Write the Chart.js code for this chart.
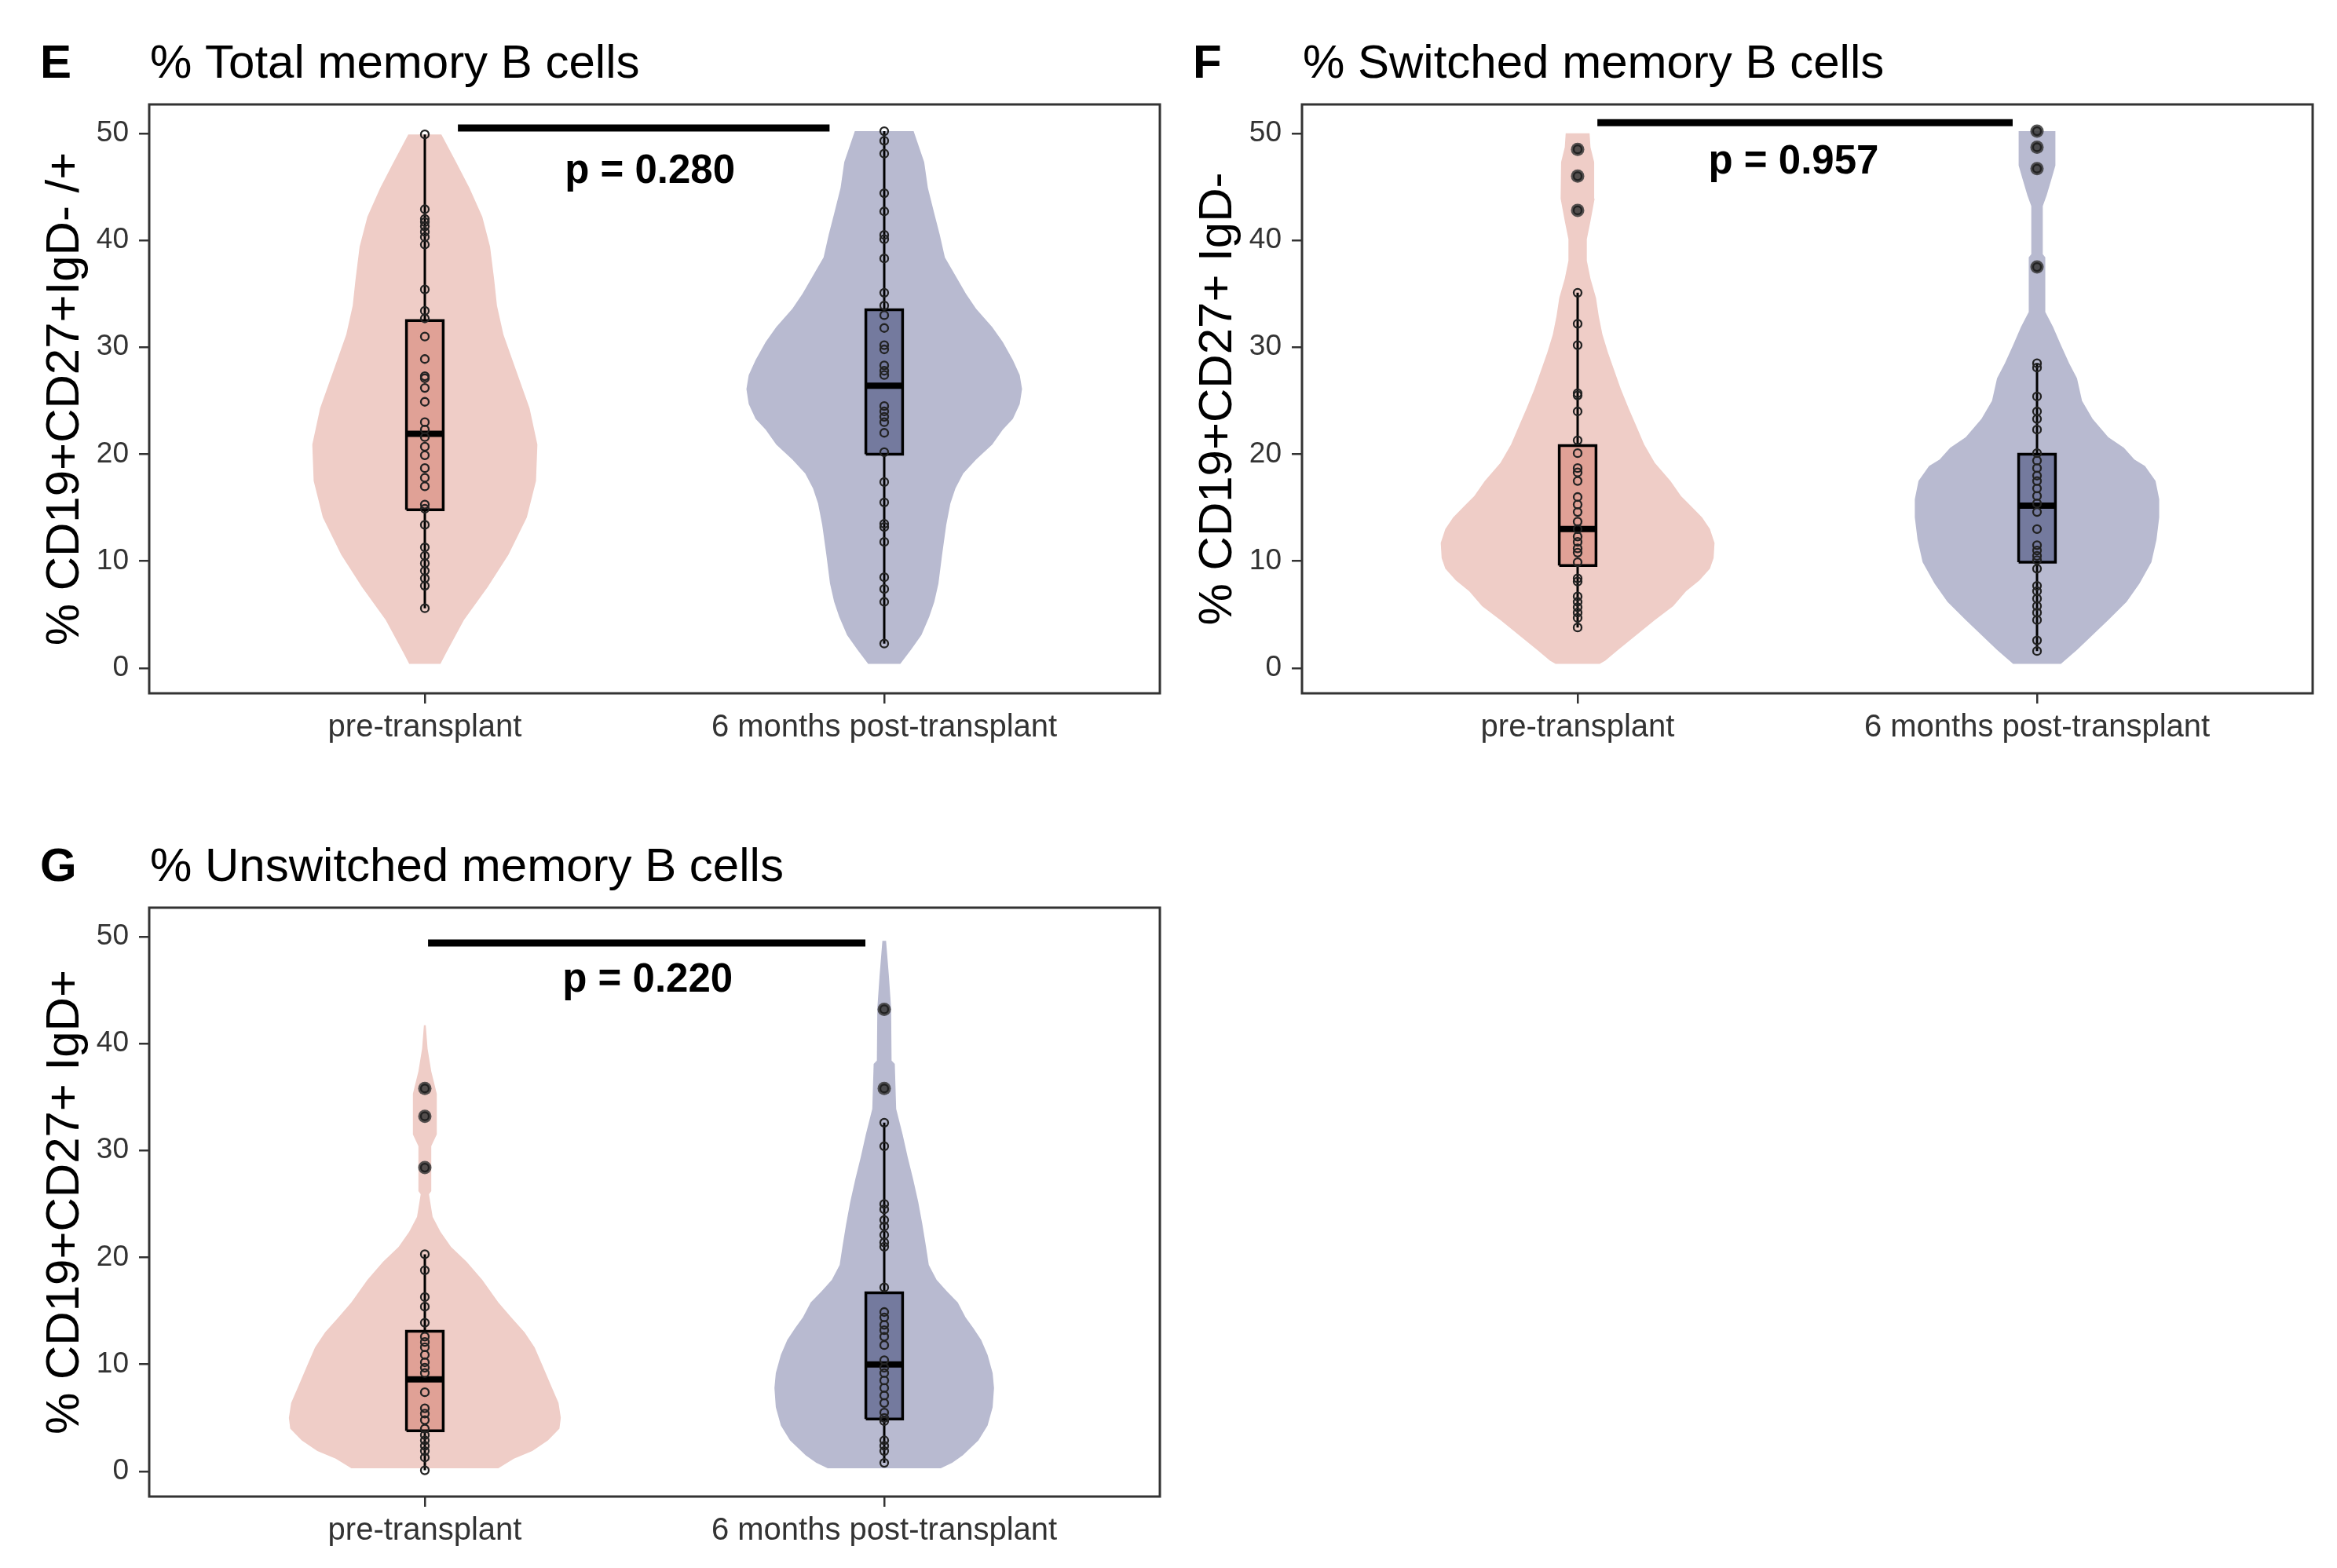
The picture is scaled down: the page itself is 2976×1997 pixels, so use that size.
<!DOCTYPE html>
<html>
<head>
<meta charset="utf-8">
<script src="https://cdn.jsdelivr.net/npm/chart.js@4.4.1/dist/chart.umd.min.js"></script>
<style>
  html, body { margin: 0; padding: 0; background: #fff; overflow: hidden; }
  body { width: 2976px; height: 1997px; position: relative; }
  canvas { position: absolute; }
</style>
</head>
<body>
<canvas id="chartE" width="1500" height="970" style="left:0px;top:0px;width:1500px;height:970px"></canvas>
<canvas id="chartF" width="1500" height="970" style="left:1468px;top:0px;width:1500px;height:970px"></canvas>
<canvas id="chartG" width="1500" height="970" style="left:0px;top:1023px;width:1500px;height:970px"></canvas>
<script>
// ---- shared labels ----
const groups = ['pre-transplant', '6 months post-transplant'];
const yTicks = [0, 10, 20, 30, 40, 50];

// ---- E: total memory B cells ----
const ePrePoints = [49.9, 42.9, 42.0, 41.7, 41.3, 40.8, 40.3, 39.6, 35.4, 33.4, 32.7, 31.0, 28.9, 27.3, 27.1, 26.2, 24.9, 23.0, 22.3, 21.6, 20.7, 19.9, 18.7, 17.8, 17.0, 15.3, 14.9, 13.4, 11.3, 10.5, 9.8, 9.1, 8.4, 7.7, 5.6];
const ePostPoints = [50.2, 49.3, 48.1, 44.4, 42.7, 40.5, 40.1, 38.3, 35.1, 33.9, 33.0, 31.8, 30.2, 29.8, 28.3, 27.8, 27.4, 24.5, 24.0, 23.5, 23.0, 22.0, 20.2, 17.4, 15.5, 13.5, 13.2, 11.8, 8.5, 7.4, 6.2, 2.3];
const ePreOutliers = [];
const ePostOutliers = [];
// box stats: lower whisker, q1, median, q3, upper whisker
const ePreBox = [5.6, 14.8, 21.9, 32.5, 49.9];
const ePostBox = [2.3, 20.0, 26.4, 33.5, 50.2];
// violin outline: y levels and half width (in category units)
const ePreViolinY = [0.4, 1.4, 4.5, 7.6, 10.6, 14.1, 17.5, 20.9, 24.3, 27.8, 31.2, 33.9, 36.3, 39.4, 42.2, 44.9, 47.3, 49.9];
const ePreViolinW = [0.034, 0.046, 0.085, 0.137, 0.182, 0.222, 0.242, 0.245, 0.228, 0.199, 0.171, 0.157, 0.151, 0.142, 0.125, 0.097, 0.068, 0.036];
const ePostViolinY = [0.4, 1.7, 3.1, 4.8, 6.2, 7.9, 10.6, 13.4, 15.4, 16.8, 18.2, 19.5, 20.9, 22.3, 23.3, 24.7, 26.1, 27.4, 28.8, 30.5, 31.9, 33.6, 35.0, 36.7, 38.4, 40.5, 42.5, 44.9, 47.3, 50.2];
const ePostViolinW = [0.035, 0.058, 0.081, 0.098, 0.109, 0.118, 0.126, 0.135, 0.144, 0.155, 0.172, 0.2, 0.235, 0.258, 0.28, 0.295, 0.3, 0.295, 0.28, 0.258, 0.235, 0.2, 0.178, 0.155, 0.132, 0.121, 0.109, 0.095, 0.087, 0.064];

// ---- F: switched memory B cells ----
const fPrePoints = [48.5, 46.0, 42.8, 35.1, 32.2, 30.2, 25.7, 25.5, 24.0, 21.3, 20.1, 18.7, 18.3, 17.5, 16.0, 15.3, 14.6, 13.7, 13.0, 12.3, 11.8, 11.2, 10.8, 9.9, 8.4, 8.1, 6.7, 6.2, 5.7, 5.2, 4.7, 3.8];
const fPostPoints = [50.2, 48.7, 46.7, 37.5, 28.5, 28.1, 25.4, 24.0, 23.3, 22.3, 20.1, 19.4, 18.7, 18.0, 17.5, 16.8, 16.1, 15.4, 14.6, 13.0, 11.5, 11.0, 10.5, 10.1, 9.3, 7.7, 7.2, 6.5, 5.8, 5.2, 4.5, 2.6, 1.6];
const fPreOutliers = [48.5, 46.0, 42.8];
const fPostOutliers = [50.2, 48.7, 46.7, 37.5];
const fPreBox = [3.8, 9.6, 13.0, 20.8, 35.1];
const fPostBox = [1.6, 9.9, 15.2, 20.0, 28.5];
const fPreViolinY = [0.4, 0.7, 1.7, 3.1, 4.5, 5.8, 7.2, 8.2, 9.3, 10.3, 11.7, 13.0, 14.1, 15.1, 16.1, 17.5, 19.2, 20.9, 22.6, 24.3, 26.1, 27.8, 29.5, 31.2, 32.9, 34.6, 36.4, 38.1, 40.1, 41.8, 43.9, 47.3, 48.7, 50.0];
const fPreViolinW = [0.048, 0.06, 0.088, 0.128, 0.168, 0.208, 0.236, 0.265, 0.288, 0.296, 0.298, 0.288, 0.271, 0.248, 0.225, 0.202, 0.168, 0.145, 0.128, 0.111, 0.094, 0.08, 0.066, 0.054, 0.046, 0.04, 0.028, 0.02, 0.02, 0.028, 0.037, 0.036, 0.028, 0.026];
const fPostViolinY = [0.4, 1.7, 3.1, 4.5, 6.2, 7.9, 9.9, 12.0, 14.1, 15.8, 17.5, 18.9, 19.5, 20.6, 21.6, 23.3, 25.0, 27.1, 28.5, 30.2, 31.9, 33.3, 38.4, 38.7, 43.2, 44.2, 45.8, 47.0, 50.2];
const fPostViolinW = [0.052, 0.087, 0.121, 0.155, 0.195, 0.223, 0.249, 0.26, 0.266, 0.266, 0.258, 0.235, 0.212, 0.189, 0.155, 0.121, 0.098, 0.087, 0.07, 0.052, 0.035, 0.018, 0.018, 0.0125, 0.0125, 0.021, 0.032, 0.04, 0.04];

// ---- G: unswitched memory B cells ----
const gPrePoints = [35.8, 33.2, 28.4, 20.3, 18.8, 16.3, 15.4, 13.9, 12.6, 12.1, 11.6, 10.9, 10.2, 9.7, 9.2, 7.4, 5.9, 5.4, 4.8, 4.0, 3.4, 2.9, 2.4, 1.9, 1.3, 0.1];
const gPostPoints = [43.2, 35.8, 32.6, 30.4, 25.0, 24.5, 23.5, 22.9, 22.1, 21.4, 21.0, 17.2, 14.9, 14.4, 13.7, 13.2, 12.6, 11.8, 10.4, 9.7, 9.2, 8.5, 7.8, 7.1, 6.4, 5.5, 5.0, 4.7, 2.9, 2.4, 1.9, 0.8];
const gPreOutliers = [35.8, 33.2, 28.4];
const gPostOutliers = [43.2, 35.8];
const gPreBox = [0.1, 3.8, 8.6, 13.1, 20.3];
const gPostBox = [0.8, 4.9, 10.0, 16.7, 32.6];
const gPreViolinY = [0.3, 1.2, 1.9, 2.9, 4.0, 5.0, 6.4, 8.1, 9.9, 11.6, 13.0, 14.4, 15.8, 17.9, 19.6, 21.0, 22.4, 23.8, 25.9, 26.2, 30.4, 31.5, 35.3, 37.4, 39.5, 41.7];
const gPreViolinW = [0.16, 0.194, 0.234, 0.268, 0.293, 0.296, 0.291, 0.274, 0.256, 0.239, 0.217, 0.188, 0.16, 0.125, 0.091, 0.057, 0.034, 0.017, 0.009, 0.014, 0.014, 0.026, 0.026, 0.014, 0.006, 0.002];
const gPostViolinY = [0.3, 0.8, 1.5, 2.9, 4.3, 6.0, 7.8, 9.2, 10.9, 12.3, 13.4, 14.4, 15.8, 16.8, 17.9, 19.3, 21.0, 23.1, 25.2, 27.3, 29.4, 31.5, 33.9, 38.1, 38.4, 43.3, 46.4, 49.6];
const gPostViolinW = [0.123, 0.148, 0.171, 0.205, 0.225, 0.236, 0.239, 0.236, 0.225, 0.211, 0.194, 0.177, 0.16, 0.137, 0.114, 0.097, 0.091, 0.083, 0.074, 0.063, 0.051, 0.04, 0.026, 0.023, 0.016, 0.015, 0.01, 0.004];

// ---- significance annotations: bar [x from, x to, y], label text and anchor [x, y] ----
const eBar = [1.072, 1.881, 50.5], eP = 'p = 0.280', ePPos = [1.49, 46.4];
const fBar = [1.043, 1.947, 51.0], fP = 'p = 0.957', fPPos = [1.47, 47.3];
const gBar = [1.007, 1.959, 49.4], gP = 'p = 0.220', gPPos = [1.485, 45.9];

// ---- styling ----
const FONT = '"Liberation Sans", Arial, sans-serif';
const BOX_WIDTH = 0.08;
const COLORS = [
  { violin: '#EFCDC7', box: '#E0A196' },  // pre-transplant
  { violin: '#B8BAD0', box: '#747A9E' }   // post-transplant
];

function violinShape(pos, ys, ws) {
  const right = ys.map((y, i) => ({ x: pos + ws[i], y: y }));
  const left = ys.map((y, i) => ({ x: pos - ws[i], y: y })).reverse();
  return right.concat(left, [right[0]]);
}

function boxShape(pos, s) {
  const h = BOX_WIDTH / 2;
  return [
    { x: pos - h, y: s[1] }, { x: pos + h, y: s[1] },
    { x: pos + h, y: s[3] }, { x: pos - h, y: s[3] },
    { x: pos - h, y: s[1] }
  ];
}

function buildDatasets(p) {
  const sets = [];
  [0, 1].forEach(i => {
    const pos = i + 1;
    const col = COLORS[i];
    const s = p.box[i];
    // violin body
    sets.push({ data: violinShape(pos, p.violinY[i], p.violinW[i]), showLine: true, fill: 'shape',
      backgroundColor: col.violin, borderColor: 'rgba(0,0,0,0)', borderWidth: 0, pointRadius: 0, order: 6 });
    // whisker
    sets.push({ data: [{ x: pos, y: s[0] }, { x: pos, y: s[4] }], showLine: true,
      borderColor: '#000', borderWidth: 3, pointRadius: 0, order: 5 });
    // box
    sets.push({ data: boxShape(pos, s), showLine: true, fill: 'shape', backgroundColor: col.box,
      borderColor: '#000', borderWidth: 3.5, borderJoinStyle: 'miter', pointRadius: 0, order: 4 });
    // median
    sets.push({ data: [{ x: pos - BOX_WIDTH / 2, y: s[2] }, { x: pos + BOX_WIDTH / 2, y: s[2] }], showLine: true,
      borderColor: '#000', borderWidth: 8, borderCapStyle: 'butt', pointRadius: 0, order: 3 });
    // outliers
    sets.push({ data: p.outliers[i].map(v => ({ x: pos, y: v })), pointRadius: 8.5,
      backgroundColor: 'rgba(55,55,55,0.85)', borderWidth: 0, order: 2 });
    // all observations
    sets.push({ data: p.points[i].map(v => ({ x: pos, y: v })), pointRadius: 5,
      backgroundColor: 'rgba(0,0,0,0)', borderColor: '#222', borderWidth: 2.3, order: 1 });
  });
  // significance bar
  sets.push({ data: [{ x: p.bar[0], y: p.bar[2] }, { x: p.bar[1], y: p.bar[2] }], showLine: true,
    borderColor: '#000', borderWidth: 9, borderCapStyle: 'butt', pointRadius: 0, order: 0 });
  return sets;
}

// frame, panel letter, title and p-value text
const panelDecor = {
  id: 'panelDecor',
  afterDatasetsDraw(chart, args, opts) {
    const { ctx, chartArea: a, scales: { x, y } } = chart;
    ctx.save();
    ctx.strokeStyle = '#333';
    ctx.lineWidth = 3;
    ctx.strokeRect(a.left, a.top, a.right - a.left, a.bottom - a.top);
    ctx.fillStyle = '#000';
    ctx.textBaseline = 'alphabetic';
    ctx.textAlign = 'left';
    ctx.font = 'bold 60px ' + FONT;
    ctx.fillText(opts.letter, 51, 99);
    ctx.font = '60px ' + FONT;
    ctx.fillText(opts.title, a.left + 1, 99);
    ctx.font = 'bold 51px ' + FONT;
    ctx.textAlign = 'center';
    ctx.textBaseline = 'middle';
    ctx.fillText(opts.pText, x.getPixelForValue(opts.pPos[0]), y.getPixelForValue(opts.pPos[1]));
    ctx.restore();
  }
};

function makePanel(id, p) {
  const ctx = document.getElementById(id).getContext('2d');
  new Chart(ctx, {
    type: 'scatter',
    data: { datasets: buildDatasets(p) },
    options: {
      responsive: false,
      animation: false,
      devicePixelRatio: 1,
      events: [],
      layout: { padding: { top: 133, right: 23, bottom: 0, left: 0 } },
      plugins: {
        legend: { display: false },
        tooltip: { enabled: false },
        panelDecor: { letter: p.letter, title: p.title, pText: p.pText, pPos: p.pPos }
      },
      scales: {
        x: {
          type: 'linear', min: 0.4, max: 2.6,
          afterBuildTicks: s => { s.ticks = groups.map((g, i) => ({ value: i + 1 })); },
          afterFit: s => { s.height = 87; },
          ticks: {
            callback: v => groups[Math.round(v) - 1],
            font: { family: FONT, size: 40 }, color: '#333', padding: 7,
            maxRotation: 0, autoSkip: false
          },
          grid: { drawOnChartArea: false, tickLength: 13, color: '#333', lineWidth: 2.5 },
          border: { display: false }
        },
        y: {
          type: 'linear', min: -2.35, max: 52.7,
          afterBuildTicks: s => { s.ticks = yTicks.map(v => ({ value: v })); },
          afterFit: s => { s.width = 190; },
          ticks: { font: { family: FONT, size: 37 }, color: '#333', padding: 13 },
          grid: { drawOnChartArea: false, tickLength: 13, color: '#333', lineWidth: 2.5 },
          border: { display: false },
          title: {
            display: true, text: p.yTitle, color: '#000',
            font: { family: FONT, size: 60 }, padding: { top: 47, bottom: 0 }
          }
        }
      }
    },
    plugins: [panelDecor]
  });
}

makePanel('chartE', {
  letter: 'E', title: '% Total memory B cells', yTitle: '% CD19+CD27+IgD- /+',
  points: [ePrePoints, ePostPoints], outliers: [ePreOutliers, ePostOutliers], box: [ePreBox, ePostBox],
  violinY: [ePreViolinY, ePostViolinY], violinW: [ePreViolinW, ePostViolinW],
  bar: eBar, pText: eP, pPos: ePPos
});
makePanel('chartF', {
  letter: 'F', title: '% Switched memory B cells', yTitle: '% CD19+CD27+ IgD-',
  points: [fPrePoints, fPostPoints], outliers: [fPreOutliers, fPostOutliers], box: [fPreBox, fPostBox],
  violinY: [fPreViolinY, fPostViolinY], violinW: [fPreViolinW, fPostViolinW],
  bar: fBar, pText: fP, pPos: fPPos
});
makePanel('chartG', {
  letter: 'G', title: '% Unswitched memory B cells', yTitle: '% CD19+CD27+ IgD+',
  points: [gPrePoints, gPostPoints], outliers: [gPreOutliers, gPostOutliers], box: [gPreBox, gPostBox],
  violinY: [gPreViolinY, gPostViolinY], violinW: [gPreViolinW, gPostViolinW],
  bar: gBar, pText: gP, pPos: gPPos
});
</script>
</body>
</html>
